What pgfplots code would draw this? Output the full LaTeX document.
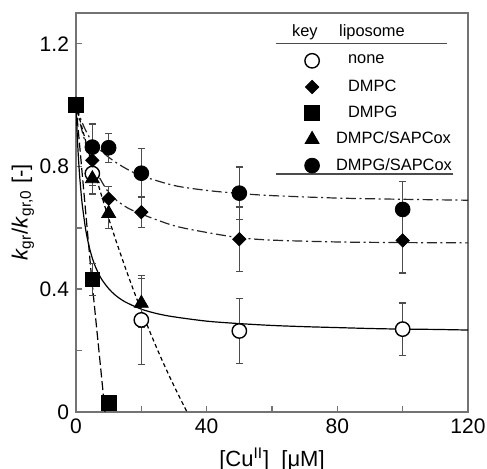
\documentclass[border=0pt]{standalone}
\usepackage{fontspec}
\setmainfont{Liberation Sans}
\usepackage{pgfplots}
\pgfplotsset{compat=1.18}
\pgfplotsset{
  errstyle/.style={error bars/.cd, y dir=both, y explicit,
    error bar style={black!70, line width=0.6pt},
    error mark options={rotate=90, mark size=1.8pt, black!70, line width=0.6pt}},
  limg/.style={legend image code/.code={\draw[##1] plot coordinates {(0pt,0pt)}; \path[draw=none, fill=none] (-6pt,-6.55pt) rectangle (6pt,6.55pt);}},
}
\begin{document}
\begin{tikzpicture}
\begin{axis}[
  scale only axis, width=196pt, height=199.5pt,
  xmin=0, xmax=120, ymin=0, ymax=1.3,
  xtick={0,40,80,120}, minor xtick={20,60,100},
  ytick={0,0.4,0.8,1.2}, minor ytick={0.2,0.6,1.0},
  tick align=inside, xtick pos=bottom, ytick pos=left,
  major tick length=3pt, minor tick length=3pt,
  axis line style={black!55, line width=0.8pt},
  every tick/.style={black!55, line width=0.8pt},
  /pgf/number format/assume math mode=true,
  yticklabel style={/pgf/number format/fixed, /pgf/number format/precision=1},
  ticklabel style={font=\fontsize{10.5}{12}\selectfont},
  xlabel={[Cu\textsuperscript{II}]~~[μM]},
  ylabel={\textit{k}\textsubscript{gr}/\textit{k}\textsubscript{gr,0} [-]},
  ylabel style={yshift=-4pt},
  label style={font=\fontsize{11}{13}\selectfont},
  legend style={at={(rel axis cs:0.5707,0.914)}, anchor=north west, draw=none, fill=none,
    inner sep=0pt, font=\fontsize{8.2}{9}\selectfont, column sep=6pt, row sep=0pt,
    nodes={inner sep=0pt, anchor=west}},
  legend cell align=left,
]
% fitted curves
\addplot[forget plot, black, line width=0.6pt, smooth] coordinates {
(0,1.0) (0.5,0.875) (1,0.786) (1.5,0.720) (2,0.668) (3,0.592) (4,0.540) (5,0.501) (6,0.472) (7,0.449) (8,0.430) (10,0.402) (12,0.381) (15,0.359) (20,0.335) (25,0.320) (30,0.310) (40,0.296) (50,0.288) (60,0.282) (70,0.278) (80,0.275) (90,0.272) (100,0.270) (110,0.269) (120,0.267)};
\addplot[forget plot, black!85, line width=0.6pt, smooth, dash pattern=on 5pt off 1.8pt on 1pt off 1.8pt] coordinates {
(0,1.0) (2,0.91) (5,0.81) (10,0.715) (15,0.67) (20,0.645) (30,0.607) (40,0.585) (50,0.568) (60,0.56) (80,0.554) (100,0.552) (120,0.551)};
\addplot[forget plot, black!85, line width=0.6pt, smooth, dash pattern=on 5pt off 1.8pt on 1pt off 1.8pt] coordinates {
(0,1.0) (2,0.94) (5,0.88) (10,0.83) (15,0.795) (20,0.77) (30,0.738) (40,0.722) (50,0.712) (60,0.705) (80,0.697) (100,0.693) (120,0.69)};
\addplot[forget plot, black, line width=0.6pt, dash pattern=on 4.5pt off 1.8pt] coordinates {
(0,1.0) (4.8,0.435) (8.9,0.0)};
\addplot[forget plot, black, line width=0.6pt, smooth, dash pattern=on 2pt off 1.5pt] coordinates {
(0,1.0) (2.5,0.9006) (5,0.8062) (7.5,0.7164) (10,0.6311) (12.5,0.5501) (15,0.4731) (17.5,0.3999) (20,0.3303) (22.5,0.2643) (25,0.2015) (27.5,0.1417) (30,0.0850) (32.5,0.0311) (34,0.0)};
% data
\addplot[only marks, mark=*, mark size=3.6pt, mark options={fill=white, draw=black, line width=0.7pt}, limg, errstyle]
 table[x=x, y=y, y error=e] {
x y e
0 1.0 0
5 0.777 0.04
20 0.30 0.145
50 0.264 0.105
100 0.27 0.085
};
\addlegendentry{\hspace{6pt}none}
\addplot[only marks, mark=square*, mark size=2.35pt, mark options={rotate=45, fill=black, draw=black}, limg, errstyle]
 table[x=x, y=y, y error=e] {
x y e
0 1.0 0
5 0.82 0.05
10 0.695 0.04
20 0.651 0.05
50 0.563 0.105
100 0.559 0.106
};
\addlegendentry{\hspace{6pt}DMPC}
\addplot[only marks, mark=square*, mark size=3.7pt, mark options={fill=black, draw=black}, limg, errstyle]
 table[x=x, y=y, y error=e] {
x y e
5 0.432 0.053
10 0.03 0
};
\addlegendentry{\hspace{6pt}DMPG}
\addplot[only marks, mark=triangle*, mark size=4pt, mark options={fill=black, draw=black}, limg, errstyle]
 table[x=x, y=y, y error=e] {
x y e
0 1.0 0
5 0.76 0.05
10 0.647 0.05
20 0.354 0.08
};
\addlegendentry{DMPC/SAPCox}
\addplot[only marks, mark=*, mark size=3.7pt, mark options={fill=black, draw=black}, limg, errstyle]
 table[x=x, y=y, y error=e] {
x y e
0 1.0 0
5 0.863 0.075
10 0.861 0.047
20 0.778 0.08
50 0.713 0.085
100 0.66 0.09
};
\addlegendentry{DMPG/SAPCox}
\addplot[only marks, mark=square*, mark size=3.7pt, mark options={fill=black, draw=black}, forget plot]
 coordinates {(0,1.0)};
% legend header and rules
\node[font=\fontsize{8.2}{9}\selectfont] at (rel axis cs:0.584,0.952) {key};
\node[font=\fontsize{8.2}{9}\selectfont] at (rel axis cs:0.755,0.952) {liposome};
\draw[black!70, line width=0.7pt] (rel axis cs:0.510,0.924) -- (rel axis cs:0.946,0.924);
\draw[black!70, line width=0.7pt] (rel axis cs:0.510,0.596) -- (rel axis cs:0.962,0.596);
\coordinate (O) at (rel axis cs:0,0);
\end{axis}
\pgfresetboundingbox
\path[use as bounding box] (O) ++(-38pt,-28.5pt) rectangle ++(243.5pt,234.5pt);
\end{tikzpicture}
\end{document}
